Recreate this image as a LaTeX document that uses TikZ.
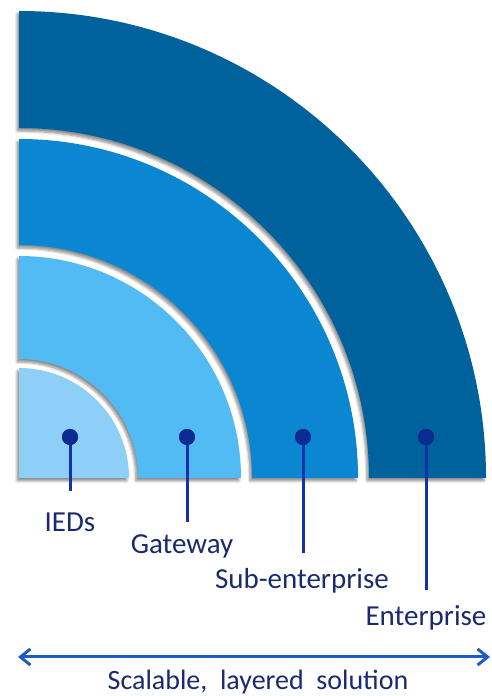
\documentclass[tikz,border=0pt]{standalone}
\usepackage{fontspec}
\setmainfont{Carlito}
\usetikzlibrary{arrows.meta,shadows.blur}
\definecolor{bandA}{HTML}{8ECFF7}
\definecolor{bandB}{HTML}{52BBF4}
\definecolor{bandC}{HTML}{0A87D0}
\definecolor{bandD}{HTML}{00629C}
\definecolor{dotc}{HTML}{0B2A92}
\definecolor{stemc}{HTML}{1432A8}
\definecolor{txtc}{HTML}{1B2A6E}
\definecolor{arrc}{HTML}{1E5BC6}
\tikzset{
  band/.style={draw=none, blur shadow={shadow xshift=-2pt, shadow yshift=-3pt, shadow blur steps=6, shadow opacity=45, shadow blur radius=2.5pt}},
  dotn/.style={circle, fill=dotc, minimum size=16pt, inner sep=0pt},
  stem/.style={draw=stemc, line width=3pt},
  lbl/.style={text=txtc, font=\fontsize{29}{34}\selectfont, inner sep=0pt, anchor=base},
  arr/.style={draw=arrc, line width=3pt, {Straight Barb[length=10pt,width=16pt]}-{Straight Barb[length=10pt,width=16pt]}}
}
\begin{document}
\begin{tikzpicture}[x=1pt,y=1pt]
\useasboundingbox (0,0) rectangle (492,696);
\coordinate (C) at (19,218);
% bands
\fill[band, fill=bandD] (369,218) -- (486,218) arc[start angle=0,end angle=90,radius=467] -- (19,568) arc[start angle=90,end angle=0,radius=350] -- cycle;
\fill[band, fill=bandC] (252,218) -- (358,218) arc[start angle=0,end angle=90,radius=339] -- (19,451) arc[start angle=90,end angle=0,radius=233] -- cycle;
\fill[band, fill=bandB] (138,218) -- (241,218) arc[start angle=0,end angle=90,radius=222] -- (19,337) arc[start angle=90,end angle=0,radius=119] -- cycle;
\fill[band, fill=bandA] (19,218) -- (129,218) arc[start angle=0,end angle=90,radius=110] -- cycle;
% dots
\node[dotn] (d1) at (70,259) {};
\node[dotn] (d2) at (187,259) {};
\node[dotn] (d3) at (303,259) {};
\node[dotn] (d4) at (426,259) {};
\coordinate (e1) at (70,205);
\coordinate (e2) at (187,174);
\coordinate (e3) at (303,143);
\coordinate (e4) at (426,106);
\draw[stem] (d1.center) -- (e1);
\draw[stem] (d2.center) -- (e2);
\draw[stem] (d3.center) -- (e3);
\draw[stem] (d4.center) -- (e4);
\node[dotn] at (d1) {};
\node[dotn] at (d2) {};
\node[dotn] at (d3) {};
\node[dotn] at (d4) {};
% labels
\node[lbl] (l1) at (70,164) {IEDs};
\node[lbl] (l2) at (182,142) {Gateway};
\node[lbl] (l3) at (302,107) {Sub-enterprise};
\node[lbl] (l4) at (426,70) {Enterprise};
% arrow
\coordinate (aL) at (18,39);
\coordinate (aR) at (490,39);
\draw[arr] (aL) -- (aR);
\node[lbl, font=\fontsize{28}{34}\selectfont] (cap) at (258,6) {Scalable,\ \ layered\ \ solution};
\end{tikzpicture}
\end{document}
